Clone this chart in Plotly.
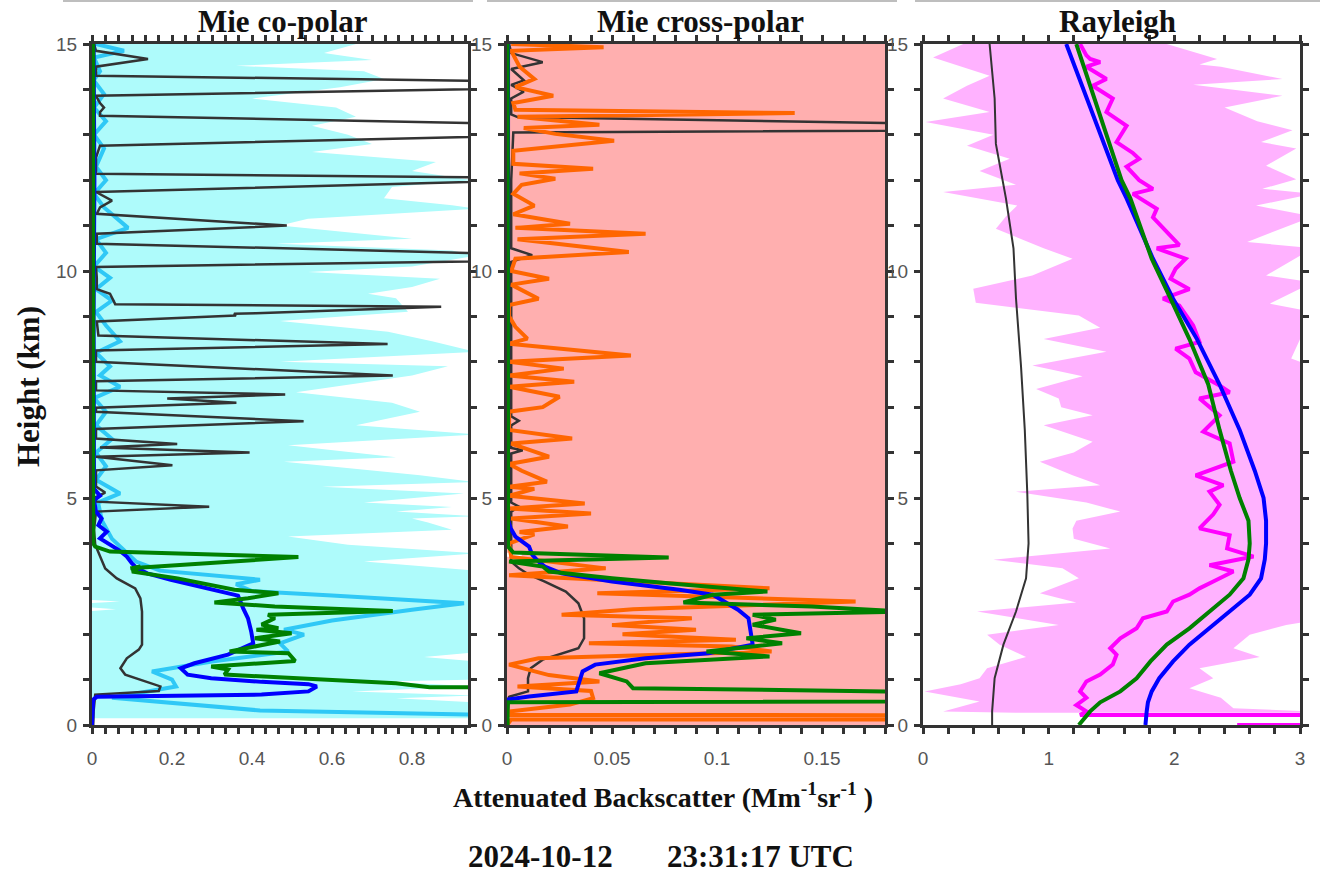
import plotly.graph_objects as go

# Profiles are listed as (height_km, attenuated_backscatter) pairs, top to bottom.

# ---------------- Mie co-polar ----------------
CO_SPREAD_HI = [
    (15.0, 0.66), (14.8, 0.58), (14.65, 0.70), (14.52, 0.36), (14.4, 0.68), (14.23, 0.73),
    (14.05, 0.62), (13.8, 0.40), (13.6, 0.61), (13.4, 0.66), (13.2, 0.55), (13.0, 0.64),
    (12.8, 0.70), (12.62, 0.55), (12.4, 0.86), (12.2, 0.80), (12.0, 0.95), (11.85, 0.75),
    (11.6, 0.73), (11.45, 0.90), (11.37, 0.96), (11.15, 0.54), (11.0, 0.47), (10.8, 0.70),
    (10.71, 0.80), (10.6, 0.46), (10.45, 0.90), (10.34, 0.96), (10.1, 0.80), (9.98, 0.54),
    (9.83, 0.87), (9.65, 0.80), (9.5, 0.69), (9.4, 0.76), (9.1, 0.79), (8.9, 0.47),
    (8.66, 0.74), (8.45, 0.85), (8.22, 0.96), (8.0, 0.47), (7.9, 0.89), (7.7, 0.80),
    (7.48, 0.63), (7.33, 0.51), (7.1, 0.75), (6.9, 0.82), (6.6, 0.66), (6.4, 0.96),
    (6.16, 0.49), (5.9, 0.76), (5.8, 0.48), (5.5, 0.82), (5.35, 0.96), (5.25, 0.575),
    (5.1, 0.93), (4.9, 0.68), (4.8, 0.90), (4.7, 0.76), (4.6, 0.96), (4.55, 0.80),
    (4.46, 0.84), (4.3, 0.90), (4.15, 0.49), (3.97, 0.64), (3.78, 0.96), (3.6, 0.68),
    (3.4, 0.96), (1.6, 0.96), (1.5, 0.83), (1.4, 0.96), (1.0, 0.96), (0.96, 0.73),
    (0.85, 0.96), (0.74, 0.65), (0.65, 0.96), (0.59, 0.76), (0.5, 0.96), (0.15, 0.96),
]
CO_SPREAD_LO = [
    (0.15, -0.02), (2.5, -0.02), (2.55, 0.06), (2.6, -0.02), (2.68, -0.02),
    (2.72, 0.07), (2.76, -0.02), (15.0, -0.02),
]
CO_MEAN = [
    (15.0, 0.01), (14.85, 0.08), (14.7, 0.005), (14.4, 0.02), (14.2, 0.004), (13.9, 0.03),
    (13.6, 0.005), (13.3, 0.035), (13.0, 0.005), (12.7, 0.03), (12.3, 0.01), (12.0, 0.035),
    (11.7, 0.005), (11.4, 0.03), (10.95, 0.09), (10.7, 0.01), (10.4, 0.035), (10.1, 0.005),
    (9.85, 0.045), (9.6, 0.01), (9.35, 0.05), (9.1, 0.01), (8.8, 0.035), (8.45, 0.07),
    (8.2, 0.01), (7.9, 0.045), (7.7, 0.02), (7.45, 0.07), (7.2, 0.005), (6.9, 0.035),
    (6.6, 0.01), (6.3, 0.05), (6.0, 0.01), (5.7, 0.035), (5.4, 0.01), (5.1, 0.07),
    (4.9, 0.015), (4.5, 0.025), (4.1, 0.05), (3.85, 0.08), (3.6, 0.11), (3.4, 0.17),
    (3.25, 0.35), (3.2, 0.42), (3.1, 0.36), (2.95, 0.40), (2.85, 0.60), (2.68, 0.93),
    (2.54, 0.80), (2.3, 0.60), (2.1, 0.48), (1.99, 0.53), (1.8, 0.47), (1.62, 0.49),
    (1.4, 0.30), (1.18, 0.15), (1.0, 0.20), (0.85, 0.21), (0.6, 0.05), (0.32, 0.42),
    (0.23, 0.95), (0.12, 40.0),
]
CO_SHOT = [
    (15.0, 0.005), (14.85, 0.01), (14.67, 0.14), (14.5, 0.01), (14.3, 0.01), (14.11, 1.65),
    (13.86, 0.01), (13.7, 0.02), (13.6, 0.03), (13.5, 0.02), (13.42, 0.02), (13.12, 1.76),
    (12.76, 0.02), (12.5, 0.01), (12.14, 0.01), (12.04, 1.29), (11.74, 0.01), (11.55, 0.05),
    (11.4, 0.02), (11.26, 0.012), (11.0, 0.487), (10.82, 0.012), (10.6, 0.012), (10.28, 1.49),
    (10.09, 0.01), (9.85, 0.012), (9.6, 0.012), (9.5, 0.045), (9.27, 0.058), (9.21, 0.873),
    (9.07, 0.41), (9.06, 0.355), (9.02, 0.36), (8.89, 0.012), (8.58, 0.016), (8.39, 0.739),
    (8.25, 0.01), (8.0, 0.01), (7.70, 0.752), (7.57, 0.01), (7.37, 0.01), (7.28, 0.483),
    (7.19, 0.188), (7.10, 0.361), (6.99, 0.01), (6.90, 0.01), (6.69, 0.529), (6.52, 0.01),
    (6.31, 0.01), (6.19, 0.213), (6.11, 0.02), (6.0, 0.394), (5.91, 0.01), (5.72, 0.201),
    (5.61, 0.01), (5.25, 0.01), (5.12, 0.033), (5.02, 0.01), (4.92, 0.01), (4.81, 0.293),
    (4.70, 0.01), (4.3, 0.005), (3.97, 0.008), (3.45, 0.033), (3.23, 0.062), (3.01, 0.108),
    (2.79, 0.121), (2.50, 0.125), (1.77, 0.125), (1.66, 0.117), (1.47, 0.087), (1.25, 0.071),
    (1.11, 0.083), (0.96, 0.134), (0.85, 0.171), (0.75, 0.167), (0.67, 0.008), (0.3, 0.004),
    (0.0, 0.003),
]
CO_RETRIEVAL_A = [
    (15.0, 0.004), (12.0, 0.006), (9.0, 0.004), (6.0, 0.006), (5.2, 0.005), (5.05, 0.02),
    (4.95, 0.005), (4.7, 0.01), (4.55, 0.024), (4.40, 0.016), (4.26, 0.037), (4.11, 0.02),
    (3.97, 0.045), (3.86, 0.066), (3.71, 0.087), (3.56, 0.10), (3.45, 0.113), (3.34, 0.138),
    (3.20, 0.197), (3.05, 0.272), (2.90, 0.34), (2.85, 0.365), (2.57, 0.378), (2.35, 0.39),
    (2.06, 0.398), (1.80, 0.403), (1.55, 0.34), (1.36, 0.256), (1.25, 0.222), (1.11, 0.239),
    (1.03, 0.298), (0.95, 0.424), (0.90, 0.541), (0.85, 0.562), (0.74, 0.541), (0.67, 0.424),
    (0.62, 0.012), (0.56, 0.003), (0.0, 0.0),
]
CO_RETRIEVAL_B = [
    (15.0, 0.003), (4.0, 0.003), (3.93, 0.008), (3.82, 0.045), (3.70, 0.516), (3.45, 0.096),
    (3.49, 0.121), (3.38, 0.10), (3.23, 0.214), (2.98, 0.356), (2.90, 0.466), (2.79, 0.39),
    (2.70, 0.306), (2.61, 0.457), (2.51, 0.752), (2.43, 0.44), (2.35, 0.457), (2.21, 0.424),
    (2.13, 0.466), (2.10, 0.411), (2.02, 0.499), (1.91, 0.407), (1.84, 0.47), (1.62, 0.344),
    (1.58, 0.491), (1.41, 0.508), (1.29, 0.298), (1.22, 0.34), (1.11, 0.331), (0.92, 0.76),
    (0.83, 0.844), (0.81, 0.95), (0.6, 400.0),
]

# ---------------- Mie cross-polar ----------------
CROSS_SPREAD_HI = [(15.0, 0.30), (0.0, 0.30)]
CROSS_SPREAD_LO = [
    (0.0, -0.01), (3.68, -0.01), (3.72, 0.007), (3.78, 0.007), (3.82, -0.01), (15.0, -0.01),
]
CROSS_MEAN = [
    (15.0, 0.002), (14.93, 0.046), (14.85, 0.002), (14.5, 0.006), (14.23, 0.013), (14.05, 0.004),
    (13.86, 0.022), (13.7, 0.003), (13.55, 0.004), (13.48, 0.137), (13.4, 0.005), (13.22, 0.044),
    (13.15, 0.008), (13.02, 0.023), (12.87, 0.051), (12.65, 0.003), (12.36, 0.003), (12.25, 0.041),
    (12.15, 0.006), (12.03, 0.023), (11.9, 0.007), (11.7, 0.003), (11.44, 0.013), (11.25, 0.003),
    (11.04, 0.030), (10.95, 0.004), (10.82, 0.066), (10.7, 0.005), (10.42, 0.058), (10.27, 0.004),
    (10.0, 0.002), (9.83, 0.020), (9.7, 0.002), (9.39, 0.015), (9.25, 0.001), (9.0, 0.001),
    (8.77, 0.004), (8.51, 0.0097), (8.4, 0.001), (8.14, 0.059), (8.0, 0.001), (7.85, 0.027),
    (7.7, 0.001), (7.56, 0.032), (7.45, 0.001), (7.23, 0.025), (7.0, 0.017), (6.9, 0.001),
    (6.5, 0.001), (6.31, 0.031), (6.2, 0.002), (5.91, 0.020), (5.75, 0.001), (5.6, 0.007),
    (5.36, 0.019), (5.25, 0.001), (5.2, 0.013), (5.05, 0.001), (4.88, 0.037), (4.77, 0.001),
    (4.66, 0.040), (4.55, 0.002), (4.37, 0.029), (4.25, 0.006), (4.2, 0.013), (4.0, 0.001),
    (3.7, 0.002), (3.45, 0.047), (3.3, 0.001), (3.01, 0.125), (2.9, 0.043), (2.72, 0.166),
    (2.55, 0.06), (2.43, 0.026), (2.35, 0.088), (2.2, 0.05), (2.1, 0.09), (2.0, 0.055),
    (1.88, 0.109), (1.8, 0.039), (1.73, 0.107), (1.62, 0.126), (1.47, 0.015), (1.33, 0.001),
    (1.1, 0.02), (0.96, 0.044), (0.85, 0.005), (0.75, 0.04), (0.59, 0.041), (0.45, 0.03),
    (0.3, 0.002), (0.22, 0.002), (0.17, 3.0), (0.12, 0.002), (0.0, 0.0),
]
CROSS_SHOT = [
    (15.0, 0.001), (14.8, 0.002), (14.6, 0.017), (14.45, 0.002), (14.2, 0.008), (14.1, 0.002),
    (13.95, 0.008), (13.8, 0.002), (13.45, 0.002), (13.39, 0.005), (13.13, 0.357), (13.05, 0.003),
    (12.0, 0.002), (10.5, 0.002), (10.35, 0.012), (10.2, 0.002), (7.0, 0.002), (6.8, 0.002),
    (6.7, 0.0056), (6.6, 0.002), (6.1, 0.002), (6.05, 0.0075), (5.98, 0.002), (4.9, 0.002),
    (4.81, 0.0057), (4.7, 0.002), (3.6, 0.002), (3.45, 0.0057), (3.31, 0.0105), (3.16, 0.018),
    (2.94, 0.028), (2.68, 0.034), (2.35, 0.0367), (1.91, 0.0367), (1.69, 0.034), (1.58, 0.026),
    (1.44, 0.017), (1.25, 0.0113), (1.03, 0.010), (0.74, 0.010), (0.62, 0.001), (0.0, 0.0),
]
CROSS_RETRIEVAL_A = [
    (15.0, 0.0005), (4.5, 0.0005), (4.33, 0.0018), (4.15, 0.004), (3.93, 0.0105), (3.75, 0.012),
    (3.6, 0.015), (3.49, 0.018), (3.34, 0.026), (3.16, 0.050), (2.98, 0.082), (2.87, 0.098),
    (2.54, 0.11), (2.35, 0.115), (2.06, 0.116), (1.77, 0.117), (1.58, 0.096), (1.47, 0.066),
    (1.33, 0.042), (1.18, 0.036), (0.89, 0.034), (0.74, 0.033), (0.63, 0.0105), (0.56, 0.0),
    (0.0, 0.0),
]
CROSS_RETRIEVAL_B = [
    (15.0, 0.0003), (4.0, 0.0003), (3.93, 0.0005), (3.80, 0.003), (3.69, 0.077), (3.6, 0.001),
    (3.49, 0.017), (3.38, 0.02), (3.23, 0.05), (3.09, 0.085), (2.94, 0.124), (2.87, 0.098),
    (2.70, 0.084), (2.61, 0.145), (2.50, 0.19), (2.43, 0.117), (2.32, 0.128), (2.21, 0.117),
    (2.02, 0.14), (1.91, 0.114), (1.80, 0.131), (1.62, 0.095), (1.51, 0.125), (1.36, 0.066),
    (1.14, 0.044), (0.96, 0.057), (0.81, 0.06), (0.555, 0.5), (0.5, 0.0003), (0.0, 0.0003),
]

# ---------------- Rayleigh ----------------
RAY_SPREAD_HI = [
    (15.0, 1.94), (14.67, 2.34), (14.55, 2.2), (14.5, 2.37), (14.23, 2.86), (14.1, 2.15),
    (13.86, 2.86), (13.6, 2.4), (13.3, 2.66), (13.1, 2.94), (12.84, 2.69), (12.7, 2.97),
    (12.32, 2.73), (12.02, 2.97), (11.81, 2.70), (11.7, 3.1), (11.44, 2.65), (11.2, 3.1),
    (10.64, 2.58), (10.5, 3.1), (9.9, 2.73), (9.75, 3.1), (9.28, 2.76), (9.1, 3.1),
    (8.07, 2.93), (7.9, 3.1), (2.3, 3.1), (2.2, 2.89), (1.99, 2.60), (1.69, 2.47),
    (1.5, 2.68), (1.25, 2.2), (1.03, 2.31), (0.81, 2.12), (0.6, 2.37), (0.37, 2.47),
    (0.3, 3.1), (0.27, 3.1),
]
RAY_SPREAD_LO = [
    (0.27, 0.74), (0.3, 0.16), (0.52, 0.45), (0.74, 0.013), (0.9, 0.3), (1.03, 0.45),
    (1.25, 0.51), (1.5, 0.82), (1.77, 0.61), (1.99, 0.51), (2.2, 1.08), (2.5, 0.43),
    (2.7, 1.22), (2.9, 0.93), (3.23, 1.24), (3.45, 1.11), (3.64, 0.56), (3.89, 1.49),
    (4.1, 1.2), (4.33, 1.19), (4.5, 1.22), (4.7, 1.57), (4.9, 1.30), (5.14, 0.74),
    (5.28, 1.41), (5.5, 1.19), (5.8, 0.93), (6.0, 1.2), (6.24, 1.35), (6.6, 0.96),
    (6.82, 1.35), (7.0, 1.1), (7.19, 1.08), (7.4, 0.90), (7.68, 1.27), (7.92, 0.87),
    (8.22, 1.46), (8.5, 0.96), (8.75, 1.41), (9.02, 1.24), (9.3, 0.42), (9.61, 0.40),
    (9.9, 0.87), (10.27, 1.19), (10.5, 0.96), (10.93, 0.58), (11.2, 0.66), (11.44, 0.75),
    (11.74, 0.16), (11.9, 0.74), (12.2, 0.45), (12.47, 0.69), (12.76, 0.35), (13.0, 0.56),
    (13.28, 0.02), (13.5, 0.53), (13.8, 0.16), (14.08, 0.35), (14.3, 0.53), (14.7, 0.08),
    (15.0, 0.32),
]
RAY_MEAN = [
    (15.0, 1.25), (14.75, 1.30), (14.67, 1.33), (14.6, 1.41), (14.5, 1.30), (14.23, 1.46),
    (14.08, 1.35), (13.8, 1.51), (13.5, 1.46), (13.2, 1.62), (12.84, 1.54), (12.6, 1.67),
    (12.47, 1.72), (12.3, 1.62), (12.0, 1.72), (11.81, 1.83), (11.7, 1.67), (11.52, 1.78),
    (11.37, 1.86), (11.18, 1.83), (10.86, 1.94), (10.57, 2.04), (10.5, 1.86), (10.27, 2.09),
    (10.05, 2.01), (9.83, 1.97), (9.6, 2.12), (9.39, 1.91), (9.24, 2.04), (8.8, 2.15),
    (8.44, 2.2), (8.29, 2.01), (8.07, 2.12), (7.77, 2.17), (7.48, 2.36), (7.33, 2.44),
    (7.19, 2.2), (6.82, 2.36), (6.46, 2.23), (6.2, 2.44), (5.8, 2.47), (5.5, 2.17),
    (5.28, 2.39), (5.14, 2.28), (4.85, 2.36), (4.64, 2.31), (4.33, 2.2), (4.18, 2.44),
    (3.89, 2.42), (3.71, 2.63), (3.52, 2.28), (3.38, 2.47), (3.16, 2.31), (3.01, 2.2),
    (2.87, 2.12), (2.72, 1.99), (2.5, 1.94), (2.35, 1.75), (2.13, 1.70), (1.91, 1.57),
    (1.69, 1.49), (1.55, 1.54), (1.33, 1.51), (1.11, 1.41), (0.96, 1.30), (0.74, 1.25),
    (0.6, 1.30), (0.44, 1.22), (0.3, 1.30), (0.22, 1.25), (0.18, 60.0), (0.0, 2.5),
]
RAY_SHOT = [
    (15.0, 0.53), (13.8, 0.57), (12.8, 0.58), (11.6, 0.66), (10.5, 0.72), (9.4, 0.74),
    (7.9, 0.78), (6.5, 0.81), (5.1, 0.83), (4.0, 0.84), (3.23, 0.82), (2.5, 0.74),
    (1.77, 0.64), (1.03, 0.57), (0.3, 0.55), (0.0, 0.55),
]
RAY_RETRIEVAL_A = [
    (15.0, 1.14), (12.0, 1.55), (11.6, 1.62), (10.27, 1.83), (9.39, 1.99), (8.5, 2.18),
    (7.5, 2.36), (6.5, 2.52), (5.6, 2.64), (5.0, 2.71), (4.5, 2.73), (4.0, 2.73),
    (3.65, 2.72), (3.23, 2.69), (2.87, 2.60), (2.5, 2.44), (2.13, 2.28), (1.77, 2.12),
    (1.4, 1.99), (1.03, 1.88), (0.74, 1.82), (0.5, 1.79), (0.3, 1.78), (0.0, 1.77),
]
RAY_RETRIEVAL_B = [
    (15.0, 1.22), (12.0, 1.58), (11.6, 1.65), (10.27, 1.82), (9.39, 1.97), (8.5, 2.12),
    (7.5, 2.27), (6.5, 2.36), (5.6, 2.45), (5.0, 2.52), (4.5, 2.59), (4.0, 2.60),
    (3.65, 2.59), (3.23, 2.55), (2.87, 2.44), (2.5, 2.28), (2.13, 2.12), (1.77, 1.94),
    (1.4, 1.81), (1.03, 1.70), (0.74, 1.57), (0.5, 1.41), (0.3, 1.33), (0.0, 1.24),
]

PANEL_TITLES = ["Mie co-polar", "Mie cross-polar", "Rayleigh"]
X_RANGES = [(0, 0.94), (0, 0.18), (0, 3.0)]
X_MAJOR = [0.2, 0.05, 1.0]
X_MINOR = [0.2 / 6, 0.01, 0.2]
Y_RANGE = (0, 15)
DATE_TEXT = "2024-10-12"
TIME_TEXT = "23:31:17 UTC"

W, H = 1324, 875
FRAME = "#333333"
SERIF = "Liberation Serif, Times New Roman, serif"

fig = go.Figure()


def split(pairs):
    return [p[1] for p in pairs], [p[0] for p in pairs]


def add_band(hi, lo, color, k):
    xh, yh = split(hi)
    xl, yl = split(lo)
    fig.add_trace(go.Scatter(
        x=xh + xl, y=yh + yl, mode="lines", fill="toself", fillcolor=color,
        line=dict(width=0), xaxis=f"x{k}", yaxis=f"y{k}",
        hoverinfo="skip", showlegend=False))


def add_line(pairs, color, width, k):
    x, y = split(pairs)
    fig.add_trace(go.Scatter(
        x=x, y=y, mode="lines", line=dict(color=color, width=width),
        xaxis=f"x{k}", yaxis=f"y{k}", hoverinfo="skip", showlegend=False))


# panel 1
add_band(CO_SPREAD_HI, CO_SPREAD_LO, "#aefbfb", 1)
add_line(CO_MEAN, "#2fc8f6", 4, 1)
add_line(CO_SHOT, "#333333", 2.5, 1)
add_line(CO_RETRIEVAL_A, "#0000ff", 4, 1)
add_line(CO_RETRIEVAL_B, "#008000", 4, 1)
# panel 2
add_band(CROSS_SPREAD_HI, CROSS_SPREAD_LO, "#ffafaf", 2)
add_line(CROSS_SHOT, "#333333", 2.5, 2)
add_line(CROSS_MEAN, "#ff6600", 4, 2)
add_line(CROSS_RETRIEVAL_A, "#0000ff", 4, 2)
add_line(CROSS_RETRIEVAL_B, "#008000", 4, 2)
# panel 3
add_band(RAY_SPREAD_HI, RAY_SPREAD_LO, "#ffb2ff", 3)
add_line(RAY_SHOT, "#333333", 2, 3)
add_line(RAY_MEAN, "#ff00ff", 4, 3)
add_line(RAY_RETRIEVAL_A, "#0000ff", 4, 3)
add_line(RAY_RETRIEVAL_B, "#008000", 4, 3)

# panel placement in pixels
PANEL_X = [(92, 468), (507, 885), (923, 1300)]
PANEL_TOP, PANEL_BOTTOM = 44, 725
y_dom = [(H - PANEL_BOTTOM) / H, (H - PANEL_TOP) / H]

tick_font = dict(family="Liberation Sans, Arial, sans-serif", size=19, color="#555555")
common = dict(
    showline=True, linecolor=FRAME, linewidth=3, mirror="ticks",
    ticks="outside", ticklen=6, tickwidth=2.5, tickcolor=FRAME,
    showgrid=False, zeroline=False, tickfont=tick_font, automargin=False,
)

layout = dict(
    width=W, height=H, autosize=False,
    margin=dict(l=0, r=0, t=0, b=0, pad=0, autoexpand=False),
    paper_bgcolor="white", plot_bgcolor="white", showlegend=False,
)
for i in range(3):
    k = i + 1
    xs = "" if k == 1 else str(k)
    x0, x1 = PANEL_X[i]
    layout[f"xaxis{xs}"] = dict(
        common, domain=[x0 / W, x1 / W], range=list(X_RANGES[i]),
        tick0=0, dtick=X_MAJOR[i], anchor=f"y{xs}", ticklabelstandoff=8,
        minor=dict(tick0=0, dtick=X_MINOR[i], ticks="outside", ticklen=6,
                   tickwidth=2.5, tickcolor=FRAME, showgrid=False),
    )
    layout[f"yaxis{xs}"] = dict(
        common, domain=y_dom, range=list(Y_RANGE), tick0=0, dtick=5,
        anchor=f"x{xs}", ticklabelstandoff=2,
        minor=dict(tick0=0, dtick=1, ticks="outside", ticklen=6,
                   tickwidth=2.5, tickcolor=FRAME, showgrid=False),
    )

annotations = []
title_centres = [283, 700, 1117]
for name, cx in zip(PANEL_TITLES, title_centres):
    annotations.append(dict(
        text=f"<b>{name}</b>", x=cx / W, y=1 - 22 / H, xref="paper", yref="paper",
        showarrow=False, xanchor="center", yanchor="middle",
        font=dict(family=SERIF, size=31, color="#111111")))
annotations.append(dict(
    text="<b>Height (km)</b>", x=28 / W, y=1 - 387 / H, xref="paper", yref="paper",
    textangle=-90, showarrow=False, xanchor="center", yanchor="middle",
    font=dict(family=SERIF, size=31, color="#111111")))
annotations.append(dict(
    text="<b>Attenuated Backscatter (Mm<sup>-1</sup>sr<sup>-1</sup> )</b>",
    x=663 / W, y=1 - 795 / H, xref="paper", yref="paper",
    showarrow=False, xanchor="center", yanchor="middle",
    font=dict(family=SERIF, size=28, color="#111111")))
annotations.append(dict(
    text=f"<b>{DATE_TEXT}</b>", x=540 / W, y=1 - 856 / H, xref="paper", yref="paper",
    showarrow=False, xanchor="center", yanchor="middle",
    font=dict(family=SERIF, size=31, color="#111111")))
annotations.append(dict(
    text=f"<b>{TIME_TEXT}</b>", x=760 / W, y=1 - 856 / H, xref="paper", yref="paper",
    showarrow=False, xanchor="center", yanchor="middle",
    font=dict(family=SERIF, size=31, color="#111111")))
layout["annotations"] = annotations

# thin grey rules along the top edge of each column
rule_spans = [(63, 473), (487, 897), (915, 1320)]
layout["shapes"] = [
    dict(type="line", xref="paper", yref="paper", x0=a / W, x1=b / W,
         y0=1 - 1 / H, y1=1 - 1 / H, line=dict(color="#a8a8a8", width=1.5))
    for a, b in rule_spans
]

fig.update_layout(**layout)
fig.write_html("out.html")
